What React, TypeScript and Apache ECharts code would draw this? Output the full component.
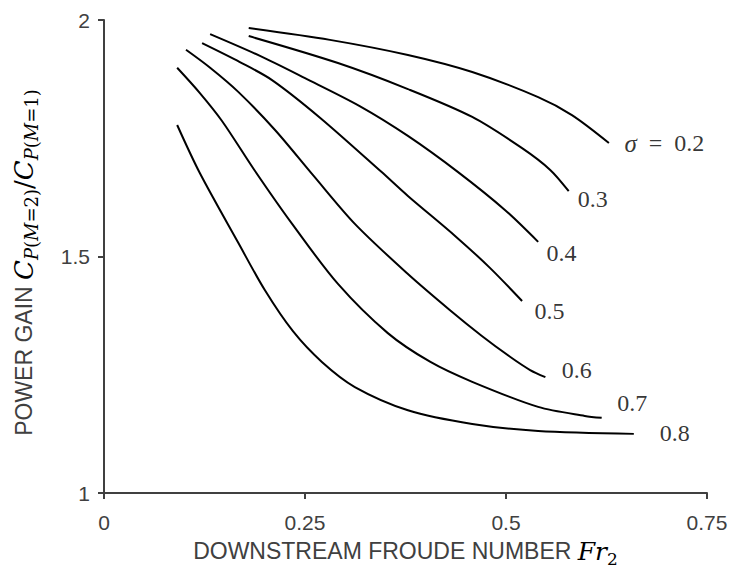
import React, { useEffect, useRef } from "react";
import * as echarts from "echarts";

const sigma02 = [[0.180, 1.983], [0.281, 1.958], [0.378, 1.926], [0.458, 1.890], [0.540, 1.837], [0.582, 1.799], [0.628, 1.740]];
const sigma03 = [[0.180, 1.966], [0.291, 1.909], [0.378, 1.854], [0.458, 1.795], [0.520, 1.729], [0.555, 1.683], [0.578, 1.638]];
const sigma04 = [[0.132, 1.970], [0.194, 1.924], [0.250, 1.877], [0.318, 1.818], [0.378, 1.755], [0.440, 1.679], [0.499, 1.598], [0.540, 1.531]];
const sigma05 = [[0.122, 1.951], [0.169, 1.911], [0.209, 1.873], [0.269, 1.793], [0.345, 1.679], [0.378, 1.628], [0.437, 1.543], [0.480, 1.476], [0.520, 1.406]];
const sigma06 = [[0.102, 1.937], [0.132, 1.899], [0.167, 1.848], [0.213, 1.767], [0.260, 1.672], [0.312, 1.569], [0.378, 1.463], [0.430, 1.387], [0.470, 1.332], [0.505, 1.288], [0.530, 1.260], [0.549, 1.245]];
const sigma07 = [[0.091, 1.899], [0.119, 1.846], [0.147, 1.786], [0.187, 1.683], [0.234, 1.569], [0.291, 1.442], [0.353, 1.338], [0.406, 1.277], [0.458, 1.235], [0.540, 1.182], [0.598, 1.163], [0.619, 1.159]];
const sigma08 = [[0.091, 1.778], [0.119, 1.677], [0.167, 1.529], [0.200, 1.429], [0.235, 1.342], [0.271, 1.277], [0.312, 1.224], [0.378, 1.175], [0.458, 1.146], [0.540, 1.131], [0.659, 1.125]];

const curves = [sigma02, sigma03, sigma04, sigma05, sigma06, sigma07, sigma08];
const sigmaLabels = ["σ = 0.2", "0.3", "0.4", "0.5", "0.6", "0.7", "0.8"];
const labelX = [0.648, 0.590, 0.551, 0.536, 0.570, 0.639, 0.692];
const labelY = [1.738, 1.621, 1.507, 1.383, 1.260, 1.190, 1.125];
const xTicks = [0, 0.25, 0.5, 0.75];
const yTicks = [1, 1.5, 2];

export default function App() {
  const ref = useRef<HTMLDivElement>(null);
  useEffect(() => {
    if (!ref.current) return;
    const chart = echarts.init(ref.current, null, { renderer: "svg" });
    const axisColor = "#404040";
    const lineSeries = curves.map((d, i) => ({
      type: "line",
      name: sigmaLabels[i],
      data: d,
      smooth: 0.3,
      symbol: "none",
      lineStyle: { color: "#000", width: 2 },
      silent: true,
    }));
    const labelSeries = {
      type: "scatter",
      symbolSize: 1,
      itemStyle: { color: "rgba(0,0,0,0)" },
      silent: true,
      data: labelX.map((x, i) => [x, labelY[i], i]),
      label: {
        show: true,
        position: [0, 0],
        align: "left",
        verticalAlign: "middle",
        color: "#000",
        fontFamily: "Liberation Serif",
        fontSize: 24,
        formatter: (p: any) => {
          const i = p.value[2];
          return i === 0 ? "{i|σ}\u2002=\u20020.2" : sigmaLabels[i];
        },
        rich: {
          i: { fontFamily: "Liberation Serif", fontStyle: "italic", fontSize: 25, color: "#000" },
        },
      },
    };
    const mathRich = (plain: number, big: number, small: number) => ({
      n: { fontFamily: "Liberation Sans", fontSize: plain, color: axisColor, lineHeight: 32, verticalAlign: "middle" },
      m: { fontFamily: "DejaVu Serif", fontStyle: "italic", fontSize: big, color: "#000", lineHeight: 32, verticalAlign: "middle" },
      u: { fontFamily: "DejaVu Serif", fontSize: big, color: "#000", lineHeight: 32, verticalAlign: "middle" },
      si: { fontFamily: "DejaVu Serif", fontStyle: "italic", fontSize: small, color: "#000", lineHeight: 19, verticalAlign: "bottom" },
      su: { fontFamily: "DejaVu Serif", fontSize: small, color: "#000", lineHeight: 19, verticalAlign: "bottom" },
    });
    chart.setOption({
      animation: false,
      grid: { left: 104, right: 22, top: 20, bottom: 79, outerBoundsMode: "none" },
      xAxis: {
        type: "value",
        min: xTicks[0],
        max: xTicks[xTicks.length - 1],
        interval: 0.25,
        splitLine: { show: false },
        axisLine: { show: true, lineStyle: { color: axisColor, width: 2 } },
        axisTick: { show: true, length: 6, lineStyle: { color: axisColor, width: 2 } },
        axisLabel: {
          color: axisColor,
          fontFamily: "Liberation Sans",
          fontSize: 21,
          margin: 19,
          formatter: (v: number) => String(v),
        },
        name: "{n|DOWNSTREAM FROUDE NUMBER }{m|Fr}{su|2}",
        nameLocation: "middle",
        nameGap: 42,
        nameTextStyle: { rich: mathRich(23, 25, 17) },
      },
      yAxis: {
        type: "value",
        min: yTicks[0],
        max: yTicks[yTicks.length - 1],
        interval: 0.5,
        splitLine: { show: false },
        axisLine: { show: true, lineStyle: { color: axisColor, width: 2 } },
        axisTick: { show: true, length: 6, lineStyle: { color: axisColor, width: 2 } },
        axisLabel: {
          color: axisColor,
          fontFamily: "Liberation Sans",
          fontSize: 21,
          margin: 14,
        },
        name: "{n|POWER GAIN }{m|C}{si|P}{su|(}{si|M}{su|=2)}{u|/}{m|C}{si|P}{su|(}{si|M}{su|=1)}",
        nameLocation: "middle",
        nameRotate: 90,
        nameGap: 64,
        nameTextStyle: { rich: mathRich(23, 26, 18), padding: [0, 12, 0, 0] },
      },
      series: [...lineSeries, labelSeries],
    });
    return () => chart.dispose();
  }, []);
  return <div ref={ref} style={{ width: 729, height: 572, position: "absolute", left: 0, top: 0 }} />;
}
